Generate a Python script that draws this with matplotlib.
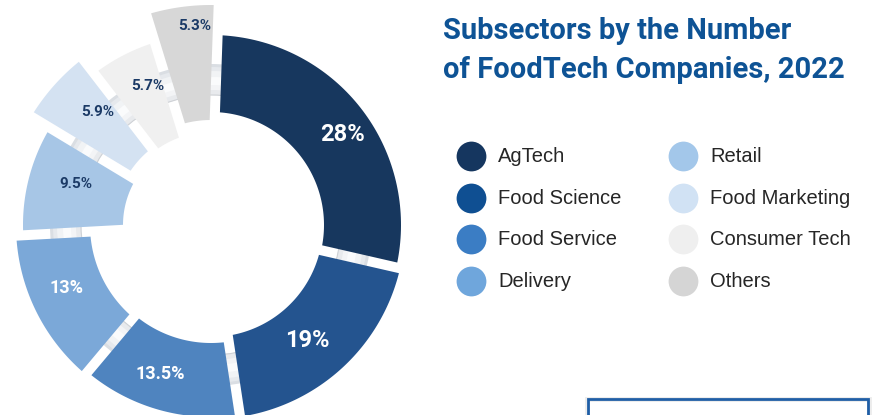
import numpy as np
import matplotlib.pyplot as plt
from matplotlib.patches import Polygon, Wedge, Rectangle, Circle

# Share of FoodTech companies by subsector, 2022
subsectors = ['AgTech', 'Food Science', 'Food Service', 'Delivery',
              'Retail', 'Food Marketing', 'Consumer Tech', 'Others']
shares = [28, 19, 13.5, 13, 9.5, 5.9, 5.7, 5.3]
share_labels = ['28%', '19%', '13.5%', '13%', '9.5%', '5.9%', '5.7%', '5.3%']

# styling per segment
colors = ['#17375e', '#24548f', '#4f84bf', '#7ba8d8',
          '#a7c6e6', '#d4e2f2', '#f0f0f0', '#d7d7d7']
legend_colors = ['#15365f', '#0f4f92', '#3b7dc4', '#6fa6dc',
                 '#a3c7ea', '#d1e2f4', '#efefef', '#d5d5d5']
r_in = [113, 112, 118, 121, 88, 97, 93, 105]
r_out = [190, 194, 192, 195, 188, 210, 191, 220]
label_r = [160, 150, 157, 158, 141, 160, 153, 200]
label_size = [17, 17, 13, 13, 11, 11, 11, 11]
label_col = ['white'] * 4 + ['#1b3a66'] * 4

W, H = 875, 415
cx, cy = 211, 225          # donut centre in pixel space
start = 88
gap = 5.0

fig = plt.figure(figsize=(W / 100, H / 100), dpi=100)
ax = fig.add_axes([0, 0, 1, 1])
ax.set_xlim(-cx, W - cx)
ax.set_ylim(-(H - cy), cy)
ax.axis('off')


def sector(a1, a2, ri, ro, h, n=80):
    do = np.degrees(np.arcsin(h / ro))
    di = np.degrees(np.arcsin(h / ri))
    t_out = np.radians(np.linspace(a1 - do, a2 + do, n))
    t_in = np.radians(np.linspace(a2 + di, a1 - di, n))
    xs = np.concatenate([ro * np.cos(t_out), ri * np.cos(t_in)])
    ys = np.concatenate([ro * np.sin(t_out), ri * np.sin(t_in)])
    return np.column_stack([xs, ys])


# shaded background ring: grey edges, light middle
ring = [(161, '#dadee3'), (158, '#e6e9ed'), (154, '#f1f3f5'),
        (148, '#fafbfc'), (140, '#f3f4f6'), (135, '#e8eaed')]
for r, c in ring:
    ax.add_patch(Wedge((0, 0), r, 0, 360, width=r - 130, color=c, lw=0))
ax.add_patch(Circle((0, 0), 130, fill=False, ec='#cfd2d6', lw=0.8))

total = sum(shares)
a = start
for i, v in enumerate(shares):
    span = 360 * v / total
    a1, a2 = a, a - span
    ax.add_patch(Polygon(sector(a1, a2, r_in[i], r_out[i], gap),
                         closed=True, fc=colors[i], ec='none'))
    mid = np.radians((a1 + a2) / 2 - 3)
    ax.text(label_r[i] * np.cos(mid), label_r[i] * np.sin(mid), share_labels[i],
            ha='center', va='center', fontsize=label_size[i],
            color=label_col[i], fontweight='bold', family='Roboto')
    a = a2

# title
fig.text(443 / W, 1 - 17 / H, 'Subsectors by the Number\nof FoodTech Companies, 2022',
         ha='left', va='top', fontsize=21, fontweight='bold', family='Roboto',
         color='#0e5395', linespacing=1.5)

# legend in two columns
col_x = [471, 683]
row_y = [156, 198, 239, 281]
for i, name in enumerate(subsectors):
    x = col_x[i // 4]
    y = row_y[i % 4]
    ax.scatter(x - cx, cy - y, s=460, color=legend_colors[i], lw=0, zorder=3)
    ax.text(x + 27 - cx, cy - y, name, ha='left', va='center',
            fontsize=14.5, color='#262626', family='Liberation Sans')

# framed box at the lower right
fig.patches.append(Rectangle((587 / W, -0.05), 282 / W, (16 + 0.05 * H) / H,
                             transform=fig.transFigure, fill=False,
                             ec='#ececec', lw=3.5))
fig.patches.append(Rectangle((588 / W, -0.05), 280 / W, (16 + 0.05 * H) / H,
                             transform=fig.transFigure, fill=False,
                             ec='#1f5ea6', lw=2))

fig.savefig('out.png', dpi=100)
